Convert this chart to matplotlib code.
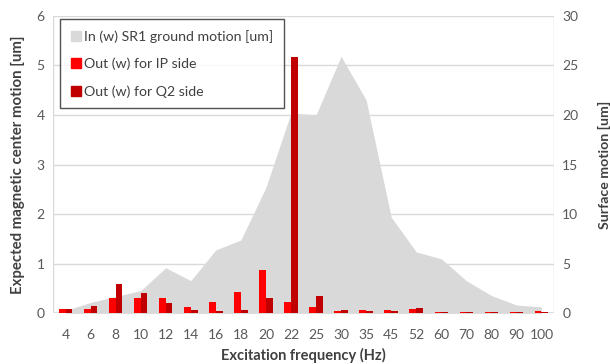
import matplotlib.pyplot as plt
import numpy as np
from matplotlib.patches import Patch

plt.rcParams['font.family'] = ['Lato', 'DejaVu Sans']

freqs = ["4", "6", "8", "10", "12", "14", "16", "18", "20", "22",
         "25", "30", "35", "45", "52", "60", "70", "80", "90", "100"]
ground_um = [0.3, 1.1, 1.7, 2.3, 4.6, 3.3, 6.4, 7.4, 12.7, 20.2,
             20.0, 25.9, 21.5, 9.7, 6.2, 5.5, 3.3, 1.8, 0.85, 0.65]
ip_side = [0.08, 0.08, 0.32, 0.31, 0.32, 0.13, 0.23, 0.43, 0.87, 0.23,
           0.13, 0.04, 0.06, 0.06, 0.08, 0.02, 0.02, 0.02, 0.02, 0.05]
q2_side = [0.08, 0.15, 0.59, 0.41, 0.20, 0.07, 0.04, 0.06, 0.31, 5.17,
           0.36, 0.06, 0.04, 0.04, 0.10, 0.02, 0.02, 0.02, 0.02, 0.02]

GRID = "#d9d9d9"
TICK = "#595959"
LABEL = "#404040"

fig = plt.figure(figsize=(6.1, 3.64), dpi=100)
ax = fig.add_axes([0.0869, 0.139, 0.8213, 0.818])
ax2 = ax.twinx()
ax.set_zorder(ax2.get_zorder() + 1)
ax.patch.set_visible(False)

x = np.arange(len(freqs))
w = 0.27
ax2.fill_between(x, ground_um, 0, color="#d9d9d9", linewidth=0)
ax.bar(x - w / 2, ip_side, width=w, color="#ff0000")
ax.bar(x + w / 2, q2_side, width=w, color="#c00000")

ax.set_xlim(-0.5, len(freqs) - 0.5)
ax.set_ylim(0, 6)
ax2.set_ylim(0, 30)
ax.set_xticks(x)
ax.set_xticklabels(freqs)
ax.set_yticks(range(0, 7))
ax2.set_yticks(range(0, 31, 5))
for a in (ax, ax2):
    a.tick_params(length=0, labelsize=10, labelcolor=TICK, pad=6)
    for s in a.spines.values():
        s.set_visible(False)
ax.tick_params(axis="x", pad=11)
ax2.grid(axis="y", color=GRID, linewidth=1)
ax2.set_axisbelow(True)
ax.axvline(-0.5, color=GRID, linewidth=1)
ax.axvline(len(freqs) - 0.5, color=GRID, linewidth=1)
ax.axhline(0, color=GRID, linewidth=1.2, zorder=0)

ax.set_xlabel("Excitation frequency (Hz)", fontsize=10.5, fontweight="bold", color=LABEL, labelpad=5)
ax.set_ylabel("Expected magnetic center motion [um]", fontsize=10.8, fontweight="bold", color=LABEL, labelpad=8)
ax2.set_ylabel("Surface motion [um]", fontsize=10.2, fontweight="bold", color=LABEL, labelpad=14)

handles = [Patch(color="#d9d9d9", label="In (w) SR1 ground motion [um]"),
           Patch(color="#ff0000", label="Out (w) for IP side"),
           Patch(color="#c00000", label="Out (w) for Q2 side")]
leg = ax.legend(handles=handles, loc="upper left", bbox_to_anchor=(0.014, 0.988),
                borderaxespad=0, fontsize=10.2, frameon=True, fancybox=False,
                handlelength=0.7, handleheight=0.7, handletextpad=0.25,
                labelspacing=1.05, borderpad=0.75, labelcolor="#404040")
leg.get_frame().set_edgecolor("#262626")
leg.get_frame().set_linewidth(1.0)

fig.savefig("out.png", dpi=100)
